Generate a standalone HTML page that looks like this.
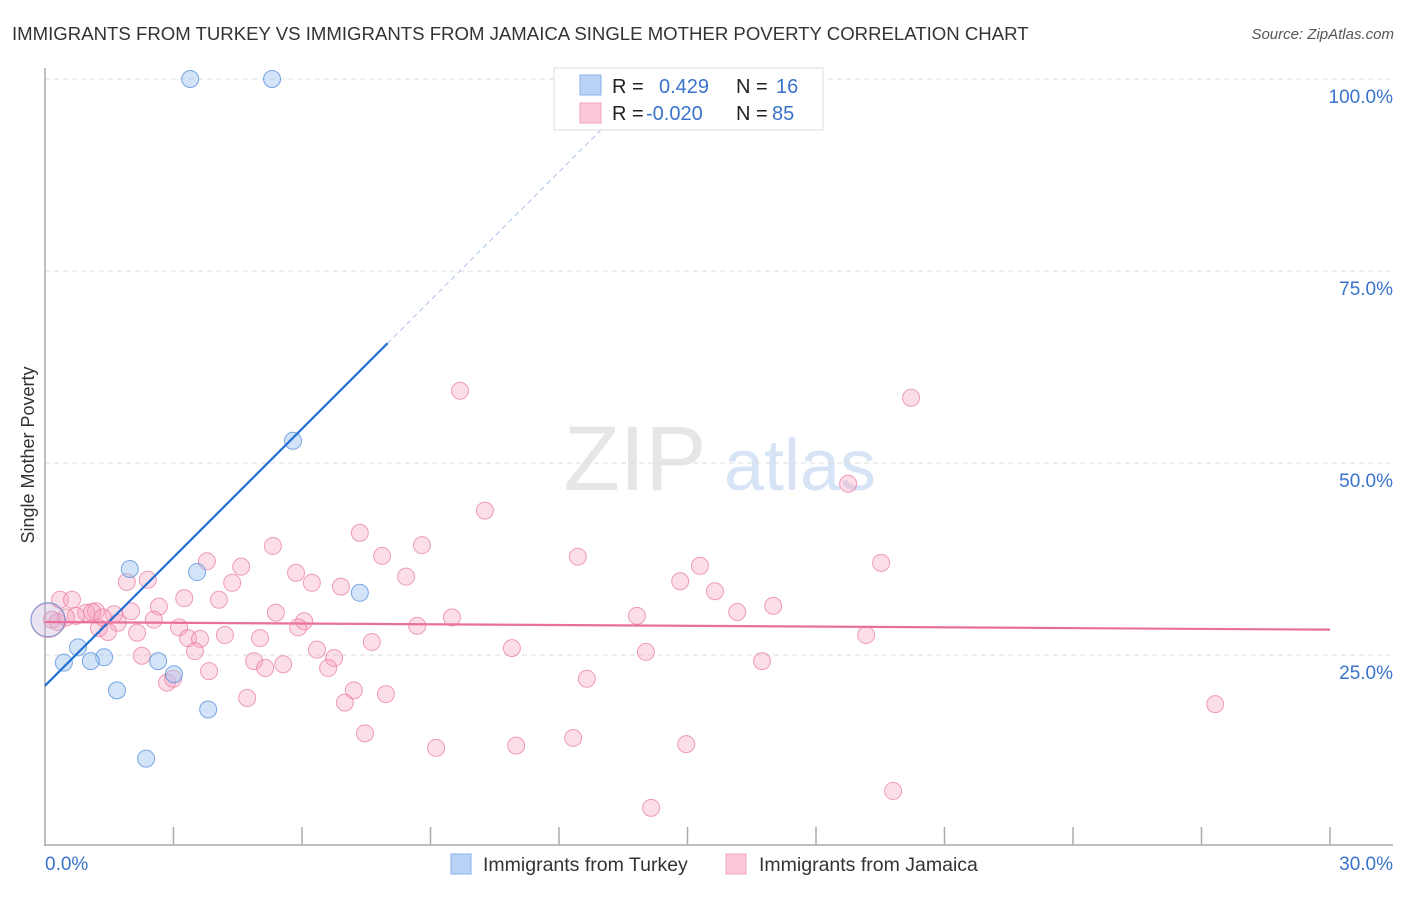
<!DOCTYPE html>
<html><head><meta charset="utf-8"><style>
body{margin:0;background:#fff;font-family:"Liberation Sans",sans-serif}
svg text{font-family:"Liberation Sans",sans-serif}
</style></head><body>
<svg id="c" width="1406" height="892" xmlns="http://www.w3.org/2000/svg">
<text x="12" y="40" font-size="18.6" fill="#333">IMMIGRANTS FROM TURKEY VS IMMIGRANTS FROM JAMAICA SINGLE MOTHER POVERTY CORRELATION CHART</text>
<text x="1394" y="39" font-size="15" fill="#555" font-style="italic" text-anchor="end">Source: ZipAtlas.com</text>
<text transform="translate(34,455) rotate(-90)" font-size="18" fill="#333" text-anchor="middle">Single Mother Poverty</text>
<g><text x="635" y="490" font-size="92" fill="#e6e6e6" font-family="Liberation Serif" text-anchor="middle">ZIP</text><text x="800" y="490" font-size="72" fill="#d6e4f6" text-anchor="middle">atlas</text></g>
<g id="grid"></g><g id="axes"></g><g id="pts"></g><g id="lines"></g>
<g>
<rect x="554" y="68" width="269" height="62" fill="#fff" stroke="#ddd"/>
<rect x="580" y="75" width="21" height="20" fill="#b8d3f5" stroke="#8ab2e8"/>
<rect x="580" y="103" width="21" height="20" fill="#fcc9d8" stroke="#f2a3bb"/>
<text x="612" y="93" font-size="20" fill="#222">R = </text><text x="659" y="93" font-size="20" fill="#3a73cc">0.429</text>
<text x="736" y="93" font-size="20" fill="#222">N = </text><text x="776" y="93" font-size="20" fill="#3a73cc">16</text>
<text x="612" y="120" font-size="20" fill="#222">R = </text><text x="646" y="120" font-size="20" fill="#3a73cc">-0.020</text>
<text x="736" y="120" font-size="20" fill="#222">N = </text><text x="772" y="120" font-size="20" fill="#3a73cc">85</text>
</g>
<g>
<rect x="451" y="854" width="20" height="20" fill="#b8d3f5" stroke="#8ab2e8"/>
<text x="483" y="871" font-size="19.5" fill="#333">Immigrants from Turkey</text>
<rect x="726" y="854" width="20" height="20" fill="#fcc9d8" stroke="#f2a3bb"/>
<text x="759" y="871" font-size="19.5" fill="#333">Immigrants from Jamaica</text>
</g>
</svg>
<script>
const yTicks=[25,50,75,100];
const yTickLabels=["25.0%","50.0%","75.0%","100.0%"];
const xTickLabels=["0.0%","30.0%"];
const turkeyX=[3.39,5.30,5.79,1.98,3.55,7.35,0.77,0.44,1.38,1.07,2.64,3.01,1.68,3.81,2.36,0.07];
const turkeyY=[100,100,52.9,36.2,35.8,33.1,26.0,24.0,24.7,24.2,24.2,22.5,20.4,17.9,11.5,29.6];
const jamaicaX=[9.69,20.22,18.75,10.27,7.35,8.80,5.32,7.87,12.44,3.78,15.29,19.52,4.58,5.86,2.40,1.91,4.37,6.23,8.43,14.83,6.91,15.64,17.00,4.06,3.25,2.66,2.01,5.39,16.16,9.50,13.82,6.05,1.26,1.70,2.54,3.13,5.91,8.69,1.47,2.15,4.20,19.17,3.34,3.62,5.02,7.63,10.90,14.03,3.50,6.35,2.26,4.88,6.75,16.74,5.56,5.14,6.61,3.83,12.65,2.85,2.99,7.21,7.96,4.72,7.00,27.32,7.47,12.33,9.13,11.00,14.97,19.80,14.15,0.35,0.63,0.96,1.19,0.72,0.16,0.30,0.49,1.10,1.61,1.35,0.07];
const jamaicaY=[59.4,58.5,47.3,43.8,40.9,39.3,39.2,37.9,37.8,37.2,36.6,37.0,36.5,35.7,34.8,34.5,34.4,34.4,35.2,34.6,33.9,33.3,31.4,32.2,32.4,31.3,30.7,30.5,30.6,29.9,30.1,29.4,28.5,29.2,29.6,28.6,28.6,28.8,28.0,27.9,27.6,27.6,27.2,27.1,27.2,26.7,25.9,25.4,25.5,25.7,24.9,24.2,24.6,24.2,23.8,23.3,23.3,22.9,21.9,21.4,21.9,20.4,19.9,19.4,18.8,18.6,14.8,14.2,12.9,13.2,13.4,7.3,5.1,32.2,32.2,30.5,30.7,30.1,29.6,29.3,29.9,30.6,30.3,29.9,29.5];
const turkeyTrend=[21.0,65.6,8.0];
const jamaicaTrend=[29.3,28.3];
const X=v=>45+v/30*1285, Y=v=>847-v*7.68;
const NS="http://www.w3.org/2000/svg";
function mk(p,t,a){const e=document.createElementNS(NS,t);for(const k in a)e.setAttribute(k,a[k]);p.appendChild(e);return e;}
const grid=document.getElementById('grid'),axes=document.getElementById('axes'),pts=document.getElementById('pts'),lines=document.getElementById('lines');
yTicks.forEach((t,i)=>{
 const l=mk(grid,'line',{x1:45,x2:1393,y1:Y(t),y2:Y(t),stroke:'#ddd','stroke-dasharray':'5,4'});
 
 
 const tx=mk(grid,'text',{x:1393,y:Y(t)+24,'font-size':19,fill:'#3a73cc','text-anchor':'end'});
 tx.textContent=yTickLabels[i];
 
 
});
const ya=mk(axes,'line',{x1:45,x2:45,y1:68,y2:846,stroke:'#aaa','stroke-width':1.5});


const xa=mk(axes,'line',{x1:44,x2:1393,y1:845,y2:845,stroke:'#aaa','stroke-width':1.5});


for(let i=1;i<=10;i++){const tk=mk(axes,'line',{x1:X(i*3),x2:X(i*3),y1:827,y2:845,stroke:'#aaa','stroke-width':1.5});
 
 }
const xl0=mk(axes,'text',{x:45,y:870,'font-size':19,fill:'#3a73cc'});xl0.textContent=xTickLabels[0];


const xl1=mk(axes,'text',{x:1393,y:870,'font-size':19,fill:'#3a73cc','text-anchor':'end'});xl1.textContent=xTickLabels[1];


jamaicaX.forEach((x,i)=>{const big=i==jamaicaX.length-1;const c=mk(pts,'circle',{cx:X(x),cy:Y(jamaicaY[i]),r:big?17:8.5,fill:big?'rgba(246,160,188,0.2)':'rgba(246,160,188,0.35)',stroke:'rgba(232,120,155,0.7)','stroke-width':1});
 
 });
turkeyX.forEach((x,i)=>{const big=i==turkeyX.length-1;const c=mk(pts,'circle',{cx:X(x),cy:Y(turkeyY[i]),r:big?17:8.5,fill:big?'rgba(160,196,240,0.2)':'rgba(160,196,240,0.45)',stroke:'rgba(80,140,220,0.75)','stroke-width':1});
 
 });
const slope=(turkeyTrend[1]-turkeyTrend[0])/turkeyTrend[2];
const t1=mk(lines,'line',{x1:X(0),y1:Y(turkeyTrend[0]),x2:X(turkeyTrend[2]),y2:Y(turkeyTrend[1]),stroke:'#1f6fd6','stroke-width':2.2});


const xe=(100-turkeyTrend[0])/slope;
const t2=mk(lines,'line',{x1:X(turkeyTrend[2]),y1:Y(turkeyTrend[1]),x2:X(xe),y2:Y(100),stroke:'#a9c3e8','stroke-width':1,'stroke-dasharray':'5,4'});


const j1=mk(lines,'line',{x1:X(0),y1:Y(jamaicaTrend[0]),x2:X(30),y2:Y(jamaicaTrend[1]),stroke:'#e8709a','stroke-width':2.2});


</script>
</body></html>
